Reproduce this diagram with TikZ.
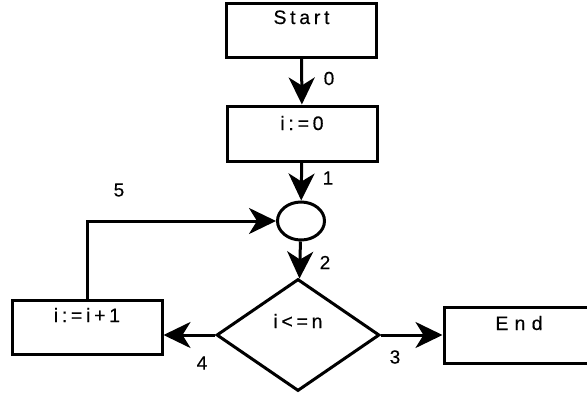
\documentclass[tikz,border=0pt]{standalone}
\usepackage{fontspec}
\setmainfont{Liberation Sans}[FakeBold=0.3]
\usetikzlibrary{shapes.geometric,arrows.meta}
\begin{document}
\begin{tikzpicture}[x=1pt,y=-1pt,
  txt/.style={font=\fontsize{19.5}{22}\selectfont\addfontfeature{LetterSpace=19}},
  stepbox/.style={draw,line width=3pt,rectangle,inner sep=0pt,minimum width=150pt,txt},
  arr/.style={line width=3pt,-{Stealth[length=27pt,width=26pt,inset=8pt]}},
  lbl/.style={inner sep=0pt,font=\fontsize{19}{22}\selectfont}
]
\useasboundingbox (0,0) rectangle (587,394);
\clip (0,0) rectangle (587,394);
\node[stepbox,text height=21pt,text depth=33pt] (start) at (301.5,30) {Start};
\node[stepbox,text height=24pt,text depth=31pt] (init) at (302,133.5) {i:=0};
\node[ellipse,draw,line width=3pt,inner sep=0pt,minimum width=47pt,minimum height=38pt] (circ) at (301,221) {};
\node[diamond,draw,line width=3pt,inner sep=0pt,minimum width=163pt,minimum height=112pt,text height=13pt,text depth=27pt,txt] (dia) at (298,335) {i<=n};
\node[stepbox,text height=22pt,text depth=32pt] (inc) at (87,327) {i:=i+1};
\node[stepbox,text height=23pt,text depth=33pt,font=\fontsize{19.5}{22}\selectfont\addfontfeature{LetterSpace=32}] (end) at (519,335) {End};
\draw[arr] (start) -- (init);
\draw[arr] (init) -- (circ);
\draw[arr] (circ) -- (dia);
\draw[arr] (inc.north) |- (circ.west);
\draw[arr] (dia.west) -- (dia.west -| inc.east);
\draw[arr] (dia.east) -- (dia.east -| end.west);
\node[lbl] (l0) at (329,78.5) {0};
\node[lbl] (l1) at (328,178) {1};
\node[lbl] (l2) at (325,262.5) {2};
\node[lbl] (l3) at (395,357) {3};
\node[lbl] (l4) at (202,363) {4};
\node[lbl] (l5) at (119,190) {5};
\end{tikzpicture}
\end{document}
